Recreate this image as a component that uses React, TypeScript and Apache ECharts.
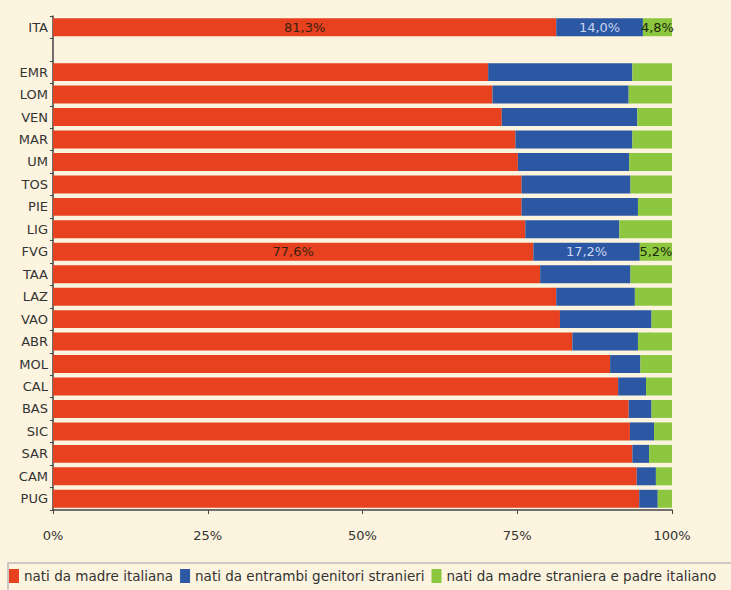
import React, { useEffect, useRef } from "react";
import * as echarts from "echarts";

const categories = ["ITA", "", "EMR", "LOM", "VEN", "MAR", "UM", "TOS", "PIE", "LIG", "FVG", "TAA", "LAZ", "VAO", "ABR", "MOL", "CAL", "BAS", "SIC", "SAR", "CAM", "PUG"];
const madreItaliana = [81.3, null, 70.3, 71.0, 72.5, 74.7, 75.1, 75.7, 75.7, 76.3, 77.6, 78.7, 81.3, 81.9, 83.9, 90.0, 91.3, 93.0, 93.2, 93.6, 94.3, 94.7];
const entrambiStranieri = [14.0, null, 23.3, 22.0, 21.9, 18.9, 18.0, 17.6, 18.8, 15.2, 17.2, 14.6, 12.7, 14.8, 10.6, 4.9, 4.5, 3.7, 3.9, 2.7, 3.1, 3.0];
const madreStraniera = [4.8, null, 6.4, 7.0, 5.6, 6.4, 6.9, 6.7, 5.5, 8.5, 5.2, 6.7, 6.0, 3.3, 5.5, 5.1, 4.2, 3.3, 2.9, 3.7, 2.6, 2.3];
const seriesNames = ["nati da madre italiana", "nati da entrambi genitori stranieri", "nati da madre straniera e padre italiano"];
const xTicks = [0, 25, 50, 75, 100];
const labelledCategories = ["ITA", "FVG"];

const FONT = "DejaVu Sans, Verdana, sans-serif";

export default function App() {
  const ref = useRef<HTMLDivElement>(null);
  useEffect(() => {
    if (!ref.current) return;
    const chart = echarts.init(ref.current, null, { renderer: "svg" });
    const fmt = (p: any) => {
      if (!labelledCategories.includes(categories[p.dataIndex])) return "";
      return String(Number(p.value).toFixed(1)).replace(".", ",") + "%";
    };
    const mk = (name: string, data: (number | null)[], color: string, labelColor: string) => ({
      type: "bar",
      name,
      stack: "tot",
      data,
      barWidth: "80%",
      itemStyle: { color },
      label: {
        show: true,
        position: "inside",
        formatter: fmt,
        color: labelColor,
        fontFamily: FONT,
        fontSize: 13,
      },
    });
    chart.setOption({
      animation: false,
      backgroundColor: "#fcf4de",
      textStyle: { fontFamily: FONT },
      grid: { left: 53, right: 59, top: 16, bottom: 80, containLabel: false },
      xAxis: {
        type: "value",
        min: 0,
        max: 100,
        interval: 25,
        axisLine: { show: true, lineStyle: { color: "#444", width: 1.5 } },
        axisTick: { show: true, length: 4, lineStyle: { color: "#444" } },
        splitLine: { show: false },
        axisLabel: {
          margin: 19,
          color: "#333",
          fontFamily: FONT,
          fontSize: 13,
          formatter: (v: number) => (xTicks.includes(v) ? v + "%" : ""),
        },
      },
      yAxis: {
        type: "category",
        data: categories,
        inverse: true,
        axisLine: { show: true, lineStyle: { color: "#444", width: 1.5 } },
        axisTick: { show: true, length: 3, lineStyle: { color: "#444" } },
        axisLabel: { margin: 5, color: "#333", fontFamily: FONT, fontSize: 13 },
      },
      legend: {
        top: 569,
        left: 9,
        width: 900,
        padding: 0,
        itemWidth: 10,
        itemHeight: 14,
        itemGap: 7,
        icon: "rect",
        textStyle: { fontFamily: FONT, fontSize: 13.5, color: "#333", padding: [0, 0, 0, 0] },
        data: seriesNames,
      },
      graphic: [
        {
          type: "rect",
          shape: { x: 8, y: 563, width: 740, height: 40 },
          style: { fill: "none", stroke: "#bbb", lineWidth: 1.5 },
          silent: true,
        },
      ],
      series: [
        mk(seriesNames[0], madreItaliana, "#e8411f", "#3a2010"),
        mk(seriesNames[1], entrambiStranieri, "#2b57a3", "#c9d6ef"),
        mk(seriesNames[2], madreStraniera, "#8dc63f", "#1c2a0c"),
      ],
    });
    return () => chart.dispose();
  }, []);
  return <div ref={ref} style={{ position: "fixed", left: 0, top: 0, width: 731, height: 590 }} />;
}
